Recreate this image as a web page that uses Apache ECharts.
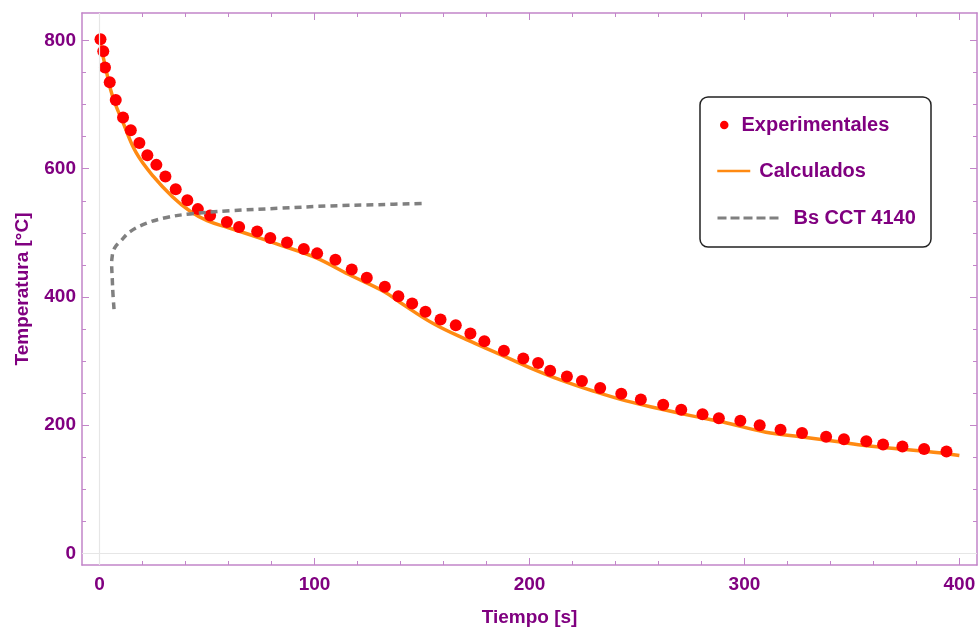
<!DOCTYPE html>
<html><head><meta charset="utf-8">
<script src="https://cdn.jsdelivr.net/npm/echarts@6/dist/echarts.min.js"></script>
<style>html,body{margin:0;padding:0;background:#fff}#c{width:979px;height:632px}</style>
</head><body><div id="c"></div>
<script>
// ---- data ----
const expTime = [0.4,1.7,2.5,4.7,7.5,10.9,14.5,18.5,22.2,26.4,30.6,35.4,40.8,45.7,51.4,59.2,64.9,73.3,79.4,87.2,95,101.2,109.7,117.3,124.3,132.7,139,145.4,151.6,158.6,165.7,172.5,179,188.1,197.1,204,209.6,217.4,224.4,232.9,242.7,251.8,262.2,270.6,280.5,288.1,298.1,307.1,316.8,326.8,338,346.3,356.7,364.5,373.5,383.6,394];
const expTemp = [802,783,758,735,707,680,660,640,621,606,588,568,551,537,527,517,509,502,492,485,475,468,458,443,430,416,401,390,377,365,356,343,331,316,304,297,285,276,269,258,249,240,232,224,217,211,207,200,193,188,182,178,175,170,167,163,159];
const calcTime = [0,3,6,11,17,25,34,42,50,60,70,84,100,116,132,140,155,171,186,200,215,230,245,260,275,290,310,326,342,357,372,388,400];
const calcTemp = [800,754,713,671,625,588,556,534,519,508,497,481,462,435,409,391,359,333,311,290,270,253,238,226,215,205,189,182,175,168,163,158,153];
const bsTime = [6.7,6.2,5.9,5.6,5.8,6.3,7.5,9.5,14.2,21.9,31.2,42.1,60.7,84,107.2,130,151.1];
const bsTemp = [381,405,427,453,462,471,479,486,502,515,524,529.5,534.6,538.4,542,544,546];
const xMajor = [0,100,200,300,400];
const xMinor = [20,40,60,80,120,140,160,180,220,240,260,280,320,340,360,380];
const yMajor = [0,200,400,600,800];
const yMinor = [50,100,150,250,300,350,450,500,550,650,700,750];
const names = ['Experimentales','Calculados','Bs CCT 4140'];
const xTitle = 'Tiempo [s]';
const yTitle = 'Temperatura [°C]';

const XMIN = -8.2, XMAX = 408.2, YMIN = -17.9, YMAX = 842.8;
const frame = '#c285c9';
const purple = '#800080';
const font = "'Liberation Sans', Arial, sans-serif";

function zip(a, b) { return a.map((v, i) => [v, b[i]]); }

function xAx(pos, vals, len, main) {
  return {
    type: 'value', min: XMIN, max: XMAX, position: pos,
    axisLine: { show: main, onZero: false, lineStyle: { color: frame, width: 1.5 } },
    axisTick: { show: true, inside: true, length: len, customValues: vals, lineStyle: { color: frame, width: 1 } },
    axisLabel: (main && pos === 'bottom') ? { show: true, customValues: xMajor, margin: 10, color: purple, fontWeight: 'bold', fontSize: 19, fontFamily: font } : { show: false },
    splitLine: { show: false },
    name: (main && pos === 'bottom') ? xTitle : '',
    nameLocation: 'middle', nameGap: 43,
    nameTextStyle: { color: purple, fontWeight: 'bold', fontSize: 19, fontFamily: font }
  };
}
function yAx(pos, vals, len, main) {
  return {
    type: 'value', min: YMIN, max: YMAX, position: pos,
    axisLine: { show: main, onZero: false, lineStyle: { color: frame, width: 1.5 } },
    axisTick: { show: true, inside: true, length: len, customValues: vals, lineStyle: { color: frame, width: 1 } },
    axisLabel: (main && pos === 'left') ? { show: true, customValues: yMajor, margin: 6, color: purple, fontWeight: 'bold', fontSize: 19, fontFamily: font } : { show: false },
    splitLine: { show: false },
    name: (main && pos === 'left') ? yTitle : '',
    nameLocation: 'middle', nameGap: 50,
    nameTextStyle: { color: purple, fontWeight: 'bold', fontSize: 19, fontFamily: font }
  };
}

const legText = { color: purple, fontWeight: 'bold', fontSize: 20, fontFamily: font };

const chart = echarts.init(document.getElementById('c'), null, { renderer: 'canvas' });
chart.setOption({
  animation: false,
  backgroundColor: '#fff',
  grid: { left: 82, right: 2, top: 13, bottom: 66, containLabel: false },
  xAxis: [xAx('bottom', xMajor, 7, true), xAx('bottom', xMinor, 4, false), xAx('top', xMajor, 7, true), xAx('top', xMinor, 4, false)],
  yAxis: [yAx('left', yMajor, 7, true), yAx('left', yMinor, 4, false), yAx('right', yMajor, 7, true), yAx('right', yMinor, 4, false)],
  graphic: [{
    type: 'rect', z: 3, shape: { x: 700, y: 97, width: 231, height: 150, r: 8 },
    style: { fill: '#fff', stroke: '#222', lineWidth: 1.5 }
  }],
  legend: [
    { data: [names[0]], left: 720, top: 115, padding: 0, selectedMode: false, icon: 'circle', itemWidth: 8.5, itemHeight: 8.5,
      itemStyle: { opacity: 1 }, textStyle: Object.assign({ padding: [0, 0, 0, 8] }, legText), z: 5 },
    { data: [names[1]], left: 716, top: 161, padding: 0, selectedMode: false, itemWidth: 33, itemHeight: 1,
      itemStyle: { opacity: 0 }, lineStyle: { width: 2.5 }, textStyle: Object.assign({ padding: [0, 0, 0, 4] }, legText), z: 5 },
    { data: [names[2]], left: 716, top: 208, padding: 0, selectedMode: false, itemWidth: 63, itemHeight: 1,
      itemStyle: { opacity: 0 }, lineStyle: { width: 3, type: [9, 4] }, textStyle: Object.assign({ padding: [0, 0, 0, 8] }, legText), z: 5 }
  ],
  series: [
    {
      type: 'line', data: [], xAxisIndex: 0, yAxisIndex: 0, z: 1, silent: true,
      markLine: { silent: true, symbol: ['none', 'none'], label: { show: false },
        lineStyle: { color: '#e6e6e6', width: 1.2, type: 'solid' },
        data: [{ xAxis: 0 }, { yAxis: 0 }] }
    },
    {
      name: names[1], type: 'line', data: zip(calcTime, calcTemp), smooth: 0.4, symbol: 'none', z: 2,
      itemStyle: { color: '#ff8a12' }, lineStyle: { color: '#ff8a12', width: 3.5 }
    },
    {
      name: names[0], type: 'scatter', data: zip(expTime, expTemp), symbol: 'circle', symbolSize: 12, z: 3,
      itemStyle: { color: '#ff0000', opacity: 1 }
    },
    {
      name: names[2], type: 'line', data: zip(bsTime, bsTemp), smooth: 0.4, symbol: 'none', z: 4,
      itemStyle: { color: '#808080' }, lineStyle: { color: '#808080', width: 3.5, type: [7, 5] }
    }
  ]
});
</script>
</body></html>
